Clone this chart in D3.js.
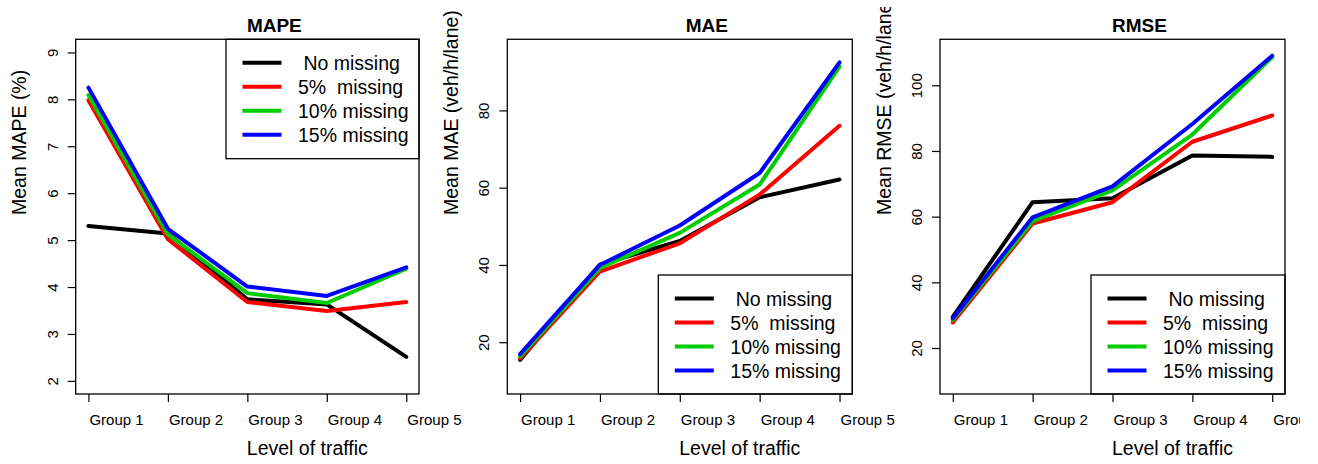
<!DOCTYPE html>
<html>
<head>
<meta charset="utf-8">
<script src="https://cdn.jsdelivr.net/npm/d3@7"></script>
<style>
  html, body { margin: 0; padding: 0; background: #fff; }
  svg { display: block; font-family: "Liberation Sans", Arial, Helvetica, sans-serif; }
</style>
</head>
<body>
<svg id="chart" width="1318" height="464"></svg>
<script>
// Traffic groups on the x axis
const groups = ["Group 1", "Group 2", "Group 3", "Group 4", "Group 5"];

// Legend labels (spacing kept as printed)
const seriesLabels = [" No missing", "5%  missing", "10% missing", "15% missing"];

// Mean MAPE (%)
const mapeNoMissing = [5.30, 5.14, 3.74, 3.63, 2.51];
const mape5 = [7.98, 5.02, 3.68, 3.49, 3.68];
const mape10 = [8.09, 5.12, 3.87, 3.66, 4.39];
const mape15 = [8.25, 5.24, 4.01, 3.81, 4.42];

// Mean MAE (veh/h/lane)
const maeNoMissing = [15.4, 40.1, 46.2, 57.5, 62.1];
const mae5 = [15.8, 38.3, 45.6, 58.2, 76.0];
const mae10 = [16.3, 39.2, 48.3, 60.8, 91.3];
const mae15 = [16.9, 40.0, 50.2, 63.8, 92.4];

// Mean RMSE (veh/h/lane)
const rmseNoMissing = [29.5, 64.4, 65.6, 78.6, 78.2];
const rmse5 = [27.8, 57.9, 64.4, 82.8, 90.8];
const rmse10 = [28.5, 58.6, 68.0, 85.0, 108.6];
const rmse15 = [29.0, 59.8, 69.2, 88.2, 109.0];

// Axis ranges and tick values
const mapeLimits = [2, 9];
const mapeTicks = [2, 3, 4, 5, 6, 7, 8, 9];
const maeLimits = [10, 95];
const maeTicks = [20, 40, 60, 80];
const rmseLimits = [10, 110];
const rmseTicks = [20, 40, 60, 80, 100];

const colors = ["#000000", "#ff0000", "#00cd00", "#0000ff"];

const svg = d3.select("#chart");
svg.append("rect").attr("width", 1318).attr("height", 464).attr("fill", "#fff");

const plotTop = 39.3, plotBottom = 394;

const panels = [
  { title: "MAPE", ylab: "Mean MAPE (%)", lim: mapeLimits, ticks: mapeTicks,
    series: [mapeNoMissing, mape5, mape10, mape15], left: 75.7, right: 419, legend: "top" },
  { title: "MAE", ylab: "Mean MAE (veh/h/lane)", lim: maeLimits, ticks: maeTicks,
    series: [maeNoMissing, mae5, mae10, mae15], left: 507.3, right: 852.3, legend: "bottom" },
  { title: "RMSE", ylab: "Mean RMSE (veh/h/lane)", lim: rmseLimits, ticks: rmseTicks,
    series: [rmseNoMissing, rmse5, rmse10, rmse15], left: 940, right: 1285, legend: "bottom", clip: true }
];

// clipping region for the rightmost panel (page edge)
svg.append("defs").append("clipPath").attr("id", "edge")
  .append("rect").attr("x", 0).attr("y", 7).attr("width", 1300).attr("height", 464);

// extend a range by 4% on each side
function pad(lim) {
  const d = (lim[1] - lim[0]) * 0.04;
  return [lim[0] - d, lim[1] + d];
}

panels.forEach(p => {
  const g = svg.append("g");
  if (p.clip) g.attr("clip-path", "url(#edge)");

  const x = d3.scaleLinear().domain(pad([1, groups.length])).range([p.left, p.right]);
  const y = d3.scaleLinear().domain(pad(p.lim)).range([plotBottom, plotTop]);

  // y axis
  const ya = g.append("g").attr("transform", `translate(${p.left},0)`)
    .call(d3.axisLeft(y).tickValues(p.ticks).tickSize(8).tickSizeOuter(0).tickFormat(d3.format("d")));
  ya.select(".domain").remove();
  ya.selectAll(".tick line").attr("stroke", "#000").attr("stroke-width", 1.2);
  ya.selectAll(".tick text")
    .attr("x", null).attr("dy", null)
    .attr("text-anchor", "middle")
    .attr("transform", "translate(-18,0) rotate(-90)")
    .attr("fill", "#000").attr("font-size", 15)
    .attr("font-family", "Liberation Sans, Arial, sans-serif");

  // x axis
  const xa = g.append("g").attr("transform", `translate(0,${plotBottom})`)
    .call(d3.axisBottom(x).tickValues(d3.range(1, groups.length + 1)).tickSize(8).tickSizeOuter(0)
      .tickFormat(i => groups[i - 1]));
  xa.select(".domain").remove();
  xa.selectAll(".tick line").attr("stroke", "#000").attr("stroke-width", 1.2);
  xa.selectAll(".tick text")
    .attr("y", 30.5).attr("dy", null).attr("x", 0.5)
    .attr("text-anchor", "start")
    .attr("fill", "#000").attr("font-size", 15)
    .attr("font-family", "Liberation Sans, Arial, sans-serif");

  // lines
  const line = d3.line().x((d, i) => x(i + 1)).y(d => y(d));
  p.series.forEach((s, k) => {
    g.append("path").datum(s)
      .attr("d", line)
      .attr("fill", "none")
      .attr("stroke", colors[k])
      .attr("stroke-width", 4)
      .attr("stroke-linecap", "round")
      .attr("stroke-linejoin", "round");
  });

  // legend
  const lw = p.right - p.left < 344 ? 193 : 194;
  const lx = p.right - lw;
  const ly = p.legend === "top" ? plotTop : 275;
  const lh = p.legend === "top" ? 119.4 : plotBottom - 275;
  const lg = g.append("g");
  lg.append("rect").attr("x", lx).attr("y", ly).attr("width", lw).attr("height", lh)
    .attr("fill", "#fff").attr("stroke", "#000").attr("stroke-width", 1.3);
  const rowY = k => ly + 23.5 + k * 24;
  seriesLabels.forEach((lab, k) => {
    lg.append("line").attr("x1", lx + 16.5).attr("x2", lx + 55.5)
      .attr("y1", rowY(k)).attr("y2", rowY(k))
      .attr("stroke", colors[k]).attr("stroke-width", 4);
    lg.append("text").attr("x", lx + 72).attr("y", rowY(k)).attr("dy", "0.36em")
      .style("white-space", "pre")
      .attr("font-size", 19.5).attr("fill", "#000")
      .text(lab);
  });

  // frame
  g.append("rect").attr("x", p.left).attr("y", plotTop)
    .attr("width", p.right - p.left).attr("height", plotBottom - plotTop)
    .attr("fill", "none").attr("stroke", "#000").attr("stroke-width", 1.3);

  const cx = (p.left + p.right) / 2;

  // title
  g.append("text").attr("x", cx + 27).attr("y", 32)
    .attr("text-anchor", "middle").attr("font-weight", "bold").attr("font-size", 19)
    .attr("fill", "#000").text(p.title);

  // x axis title
  g.append("text").attr("x", cx + 60).attr("y", 455)
    .attr("text-anchor", "middle").attr("font-size", 19.5)
    .attr("fill", "#000").text("Level of traffic");

  // y axis title
  g.append("text")
    .attr("transform", `translate(${p.left - 49.5},215) rotate(-90)`)
    .attr("text-anchor", "start").attr("font-size", 19.5)
    .attr("fill", "#000").text(p.ylab);
});
</script>
</body>
</html>
